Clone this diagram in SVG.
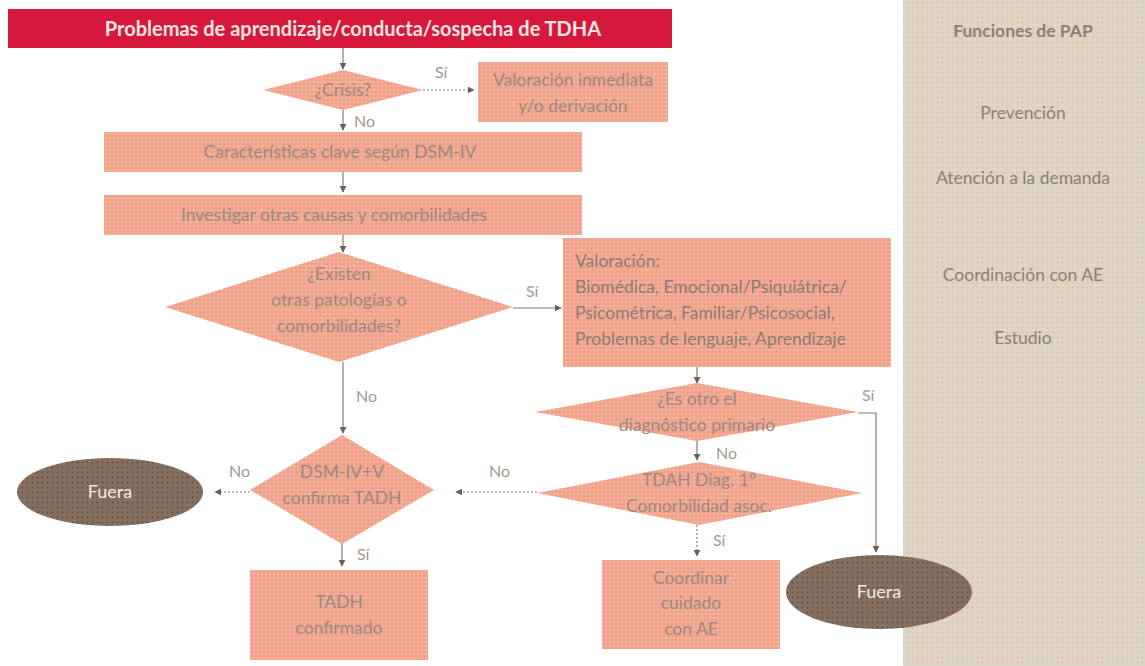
<svg xmlns="http://www.w3.org/2000/svg" width="1145" height="666" viewBox="0 0 1145 666">
<defs>
<pattern id="dots" width="5" height="5" patternUnits="userSpaceOnUse">
<rect width="5" height="5" fill="#ded6c4"/>
<circle cx="2.5" cy="2.5" r="1" fill="#e9b7a6"/>
</pattern>
<pattern id="salmon" width="4" height="4" patternUnits="userSpaceOnUse">
<rect width="4" height="4" fill="#f1a28b"/>
<circle cx="2" cy="2" r="0.9" fill="#f7c2ae"/>
</pattern>
<pattern id="brown" width="5" height="5" patternUnits="userSpaceOnUse">
<rect width="5" height="5" fill="#85705f"/>
<circle cx="2.5" cy="2.5" r="0.9" fill="#5f5046"/>
</pattern>
<marker id="ah" viewBox="0 0 10 10" refX="9" refY="5" markerWidth="7" markerHeight="7" orient="auto" markerUnits="userSpaceOnUse">
<path d="M0,0 L10,5 L0,10 z" fill="#6e5f52"/>
</marker>
</defs>
<style>
.box{fill:url(#salmon);}
.t{font-family:Lato,"Open Sans","Liberation Sans",sans-serif;font-size:17.5px;fill:#9c8980;text-anchor:middle;}
.tl{font-family:Lato,"Open Sans","Liberation Sans",sans-serif;font-size:17.5px;fill:#8d7b72;}
.lbl{font-family:Lato,"Open Sans","Liberation Sans",sans-serif;font-size:16px;fill:#a39a90;}
.side{font-family:Lato,"Open Sans","Liberation Sans",sans-serif;font-size:17.5px;fill:#8b8079;text-anchor:middle;}
.c{stroke:#8a7c70;stroke-width:1.2;fill:none;marker-end:url(#ah);}
.d{stroke-dasharray:2 2;}
.out{fill:url(#brown);}
.ot{font-family:Lato,"Open Sans","Liberation Sans",sans-serif;font-size:18px;fill:#f1ebe4;text-anchor:middle;}
</style>
<rect width="1145" height="666" fill="#ffffff"/>
<g id="panel">
<rect x="903" y="0" width="242" height="666" fill="url(#dots)"/>
<text class="side" x="1023" y="37" font-size="19" font-weight="bold" fill="#6f635a">Funciones de PAP</text>
<text class="side" x="1023" y="119">Prevención</text>
<text class="side" x="1023" y="184">Atención a la demanda</text>
<text class="side" x="1023" y="281">Coordinación con AE</text>
<text class="side" x="1023" y="344">Estudio</text>
</g>
<g id="connectors">
<line class="c" x1="343" y1="48" x2="343" y2="69"/>
<line class="c d" x1="423" y1="90" x2="474" y2="90"/>
<line class="c" x1="343" y1="110" x2="343" y2="130"/>
<line class="c" x1="343" y1="172" x2="343" y2="192"/>
<line class="c" x1="343" y1="235" x2="343" y2="252"/>
<line class="c" x1="513" y1="308" x2="561" y2="308"/>
<line class="c" x1="343" y1="362" x2="343" y2="433"/>
<line class="c" x1="697" y1="367" x2="697" y2="383"/>
<polyline class="c" points="858,413 876,413 876,552"/>
<line class="c" x1="697" y1="440" x2="697" y2="460"/>
<line class="c d" x1="537" y1="492" x2="456" y2="492"/>
<line class="c d" x1="697" y1="525" x2="697" y2="556"/>
<line class="c d" x1="250" y1="492" x2="215" y2="492"/>
<line class="c" x1="342" y1="543" x2="342" y2="566"/>
<text class="lbl" x="435" y="78">Sí</text>
<text class="lbl" x="354" y="127">No</text>
<text class="lbl" x="526" y="297">Sí</text>
<text class="lbl" x="356" y="402">No</text>
<text class="lbl" x="862" y="401">Sí</text>
<text class="lbl" x="716" y="459">No</text>
<text class="lbl" x="489" y="477">No</text>
<text class="lbl" x="713" y="546">Sí</text>
<text class="lbl" x="229" y="477">No</text>
<text class="lbl" x="357" y="560">Sí</text>
</g>
<g id="title">
<rect x="8" y="9" width="664" height="39" fill="#d6183c"/>
<text x="353" y="36" font-family="Lato,'Open Sans','Liberation Sans',sans-serif" font-size="20" font-weight="bold" fill="#f6e6e2" text-anchor="middle">Problemas de aprendizaje/conducta/sospecha de TDHA</text>
</g>
<g id="crisis">
<polygon class="box" points="263,90 343,70 423,90 343,110"/>
<text class="t" x="343" y="96">¿Crisis?</text>
</g>
<g id="valoracion-inmediata">
<rect class="box" x="478" y="62" width="190" height="60"/>
<text class="t" x="573" y="86">Valoración inmediata</text>
<text class="t" x="573" y="112">y/o derivación</text>
</g>
<g id="caracteristicas">
<rect class="box" x="104" y="132" width="478" height="40"/>
<text class="t" x="340" y="158">Características clave según DSM-IV</text>
</g>
<g id="investigar">
<rect class="box" x="104" y="195" width="478" height="40"/>
<text class="t" x="334" y="221">Investigar otras causas y comorbilidades</text>
</g>
<g id="existen">
<polygon class="box" points="165,307 339,252 513,307 339,362"/>
<text class="t" x="339" y="280">¿Existen</text>
<text class="t" x="339" y="306">otras patologías o</text>
<text class="t" x="339" y="332">comorbilidades?</text>
</g>
<g id="valoracion">
<rect class="box" x="563" y="238" width="328" height="129"/>
<text class="tl" x="575" y="267">Valoración:</text>
<text class="tl" x="575" y="293">Biomédica, Emocional/Psiquiátrica/</text>
<text class="tl" x="575" y="319">Psicométrica, Familiar/Psicosocial,</text>
<text class="tl" x="575" y="345">Problemas de lenguaje, Aprendizaje</text>
</g>
<g id="es-otro">
<polygon class="box" points="535,412 697,383 858,412 697,441"/>
<text class="t" x="697" y="405">¿Es otro el</text>
<text class="t" x="697" y="431">diagnóstico primario</text>
</g>
<g id="tdah-diag">
<polygon class="box" points="537,493 699,462 862,493 699,525"/>
<text class="t" x="699" y="486">TDAH Diag. 1º</text>
<text class="t" x="699" y="512">Comorbilidad asoc.</text>
</g>
<g id="dsm">
<polygon class="box" points="250,490 342,435 434,490 342,544"/>
<text class="t" x="342" y="478">DSM-IV+V</text>
<text class="t" x="342" y="504">confirma TADH</text>
</g>
<g id="fuera-1">
<ellipse class="out" cx="110" cy="492" rx="93" ry="34"/>
<text class="ot" x="110" y="498">Fuera</text>
</g>
<g id="fuera-2">
<ellipse class="out" cx="879" cy="592" rx="93" ry="37"/>
<text class="ot" x="879" y="598">Fuera</text>
</g>
<g id="tadh-confirmado">
<rect class="box" x="250" y="570" width="178" height="90"/>
<text class="t" x="339" y="608">TADH</text>
<text class="t" x="339" y="634">confirmado</text>
</g>
<g id="coordinar">
<rect class="box" x="602" y="560" width="178" height="89"/>
<text class="t" x="691" y="584">Coordinar</text>
<text class="t" x="691" y="609">cuidado</text>
<text class="t" x="691" y="635">con AE</text>
</g>
</svg>
